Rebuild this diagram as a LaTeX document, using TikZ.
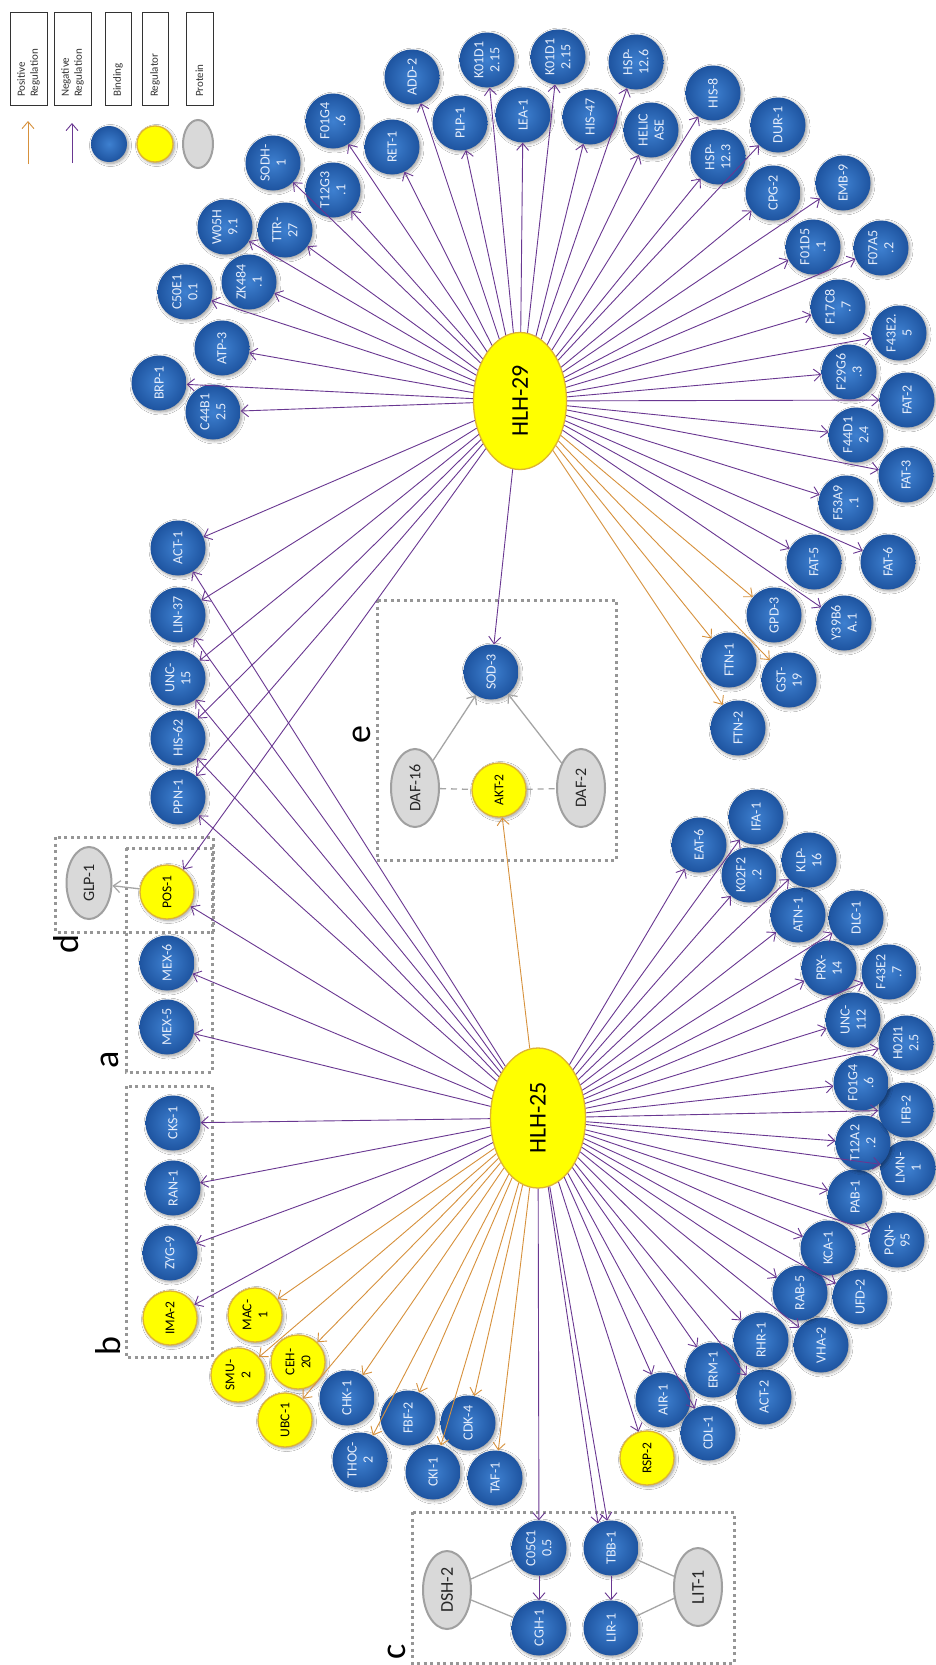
\documentclass[tikz,border=0pt]{standalone}
\usepackage{fontspec}
\setmainfont{Carlito}
\usetikzlibrary{arrows.meta,shapes.geometric,shadows.blur}

\definecolor{bIn}{RGB}{62,128,208}
\definecolor{bOut}{RGB}{30,84,160}
\definecolor{negc}{RGB}{105,55,145}
\definecolor{posc}{RGB}{215,145,60}
\definecolor{yel}{RGB}{255,255,0}
\definecolor{yelb}{RGB}{222,180,50}
\definecolor{prot}{RGB}{217,217,217}
\definecolor{protb}{RGB}{160,160,160}
\definecolor{boxc}{RGB}{150,150,150}
\definecolor{btxt}{RGB}{228,236,250}
\definecolor{linkc}{RGB}{165,165,165}

\tikzset{
  soft/.style={blur shadow={shadow xshift=1.5pt,shadow yshift=-1.5pt,shadow blur steps=8,shadow blur radius=3pt,shadow opacity=40}},
  bnode/.style={circle,minimum size=55pt,inner sep=0pt,shading=radial,inner color=bIn,outer color=bOut,
    text=btxt,font=\fontsize{14}{16}\selectfont,align=center,rotate=90,soft},
  ynode/.style={circle,minimum size=54pt,inner sep=0pt,fill=yel,draw=yelb,line width=1.3pt,
    text=black,font=\fontsize{13.5}{16}\selectfont,align=center,rotate=90,soft},
  pnode/.style={ellipse,minimum width=78pt,minimum height=48pt,inner sep=0pt,fill=prot,draw=protb,
    line width=2pt,text=black!85,font=\fontsize{16}{18}\selectfont,rotate=90},
  hub/.style={ellipse,inner sep=0pt,fill=yel,draw=yelb,line width=1.3pt,text=black,
    font=\fontsize{24}{26}\selectfont,rotate=90},
  neg/.style={draw=negc,line width=0.9pt,-{Straight Barb[length=7pt,width=12pt,line width=0.9pt]}},
  posr/.style={draw=posc,line width=0.9pt,-{Straight Barb[length=7pt,width=12pt,line width=0.9pt]}},
  grarr/.style={draw=linkc,line width=1.3pt,-{Straight Barb[length=7pt,width=12pt,line width=1.2pt]}},
  grline/.style={draw=linkc,line width=1.3pt},
  grdash/.style={draw=linkc,line width=1.3pt,dash pattern=on 6pt off 5pt},
  groupbox/.style={draw=boxc,line width=3pt,dash pattern=on 3pt off 3.5pt},
  boxletter/.style={rotate=90,font=\fontsize{36}{36}\selectfont,inner sep=0pt},
  legbox/.style={draw=black!80,line width=0.6pt},
  legtext/.style={rotate=90,anchor=west,align=left,inner sep=0pt,font=\fontsize{11}{13}\selectfont,text=black!80}
}

\begin{document}
\begin{tikzpicture}[x=1pt,y=-1pt]
\fill[white] (0,0) rectangle (936,1665);
\useasboundingbox (0,0) rectangle (936,1665);

% ---------- legend ----------
\draw[legbox] (10,12) rectangle (47,105);
\draw[legbox] (54,12) rectangle (91,105);
\draw[legbox] (105,12) rectangle (131,105);
\draw[legbox] (142,12) rectangle (168,105);
\draw[legbox] (186,12) rectangle (213,105);
\node[legtext] (lt1) at (28.5,97) {Positive\\Regulation};
\node[legtext] (lt2) at (72.5,97) {Negative\\Regulation};
\node[legtext] (lt3) at (118,97) {Binding};
\node[legtext] (lt4) at (155,97) {Regulator};
\node[legtext] (lt5) at (199.5,97) {Protein};
\coordinate (lp0) at (28,164); \coordinate (lp1) at (28,121);
\coordinate (ln0) at (72,163); \coordinate (ln1) at (72,123);
\draw[posr] (lp0) -- (lp1);
\draw[neg] (ln0) -- (ln1);
\node[bnode,minimum size=36pt] (lgb) at (109,144) {};
\node[ynode,minimum size=36pt] (lgy) at (155,144) {};
\node[pnode,minimum width=48pt,minimum height=30pt] (lgp) at (198,144) {};

% ---------- group frames ----------
\draw[groupbox] (377,600) rectangle (616,860);
\draw[groupbox] (55,837) rectangle (213,932);
\draw[groupbox] (126,848) rectangle (212,1072);
\draw[groupbox] (126,1086) rectangle (212,1357);
\draw[groupbox] (412,1512) rectangle (734,1663);
\node[boxletter] (la) at (110,1060) {a};
\node[boxletter] (lb) at (108,1346) {b};
\node[boxletter] (lc) at (397,1652) {c};
\node[boxletter] (ld) at (66,944) {d};
\node[boxletter] (le) at (362,735) {e};

% ---------- hubs ----------
\node[hub,minimum width=137pt,minimum height=93pt] (h29) at (520,401) {HLH-29};
\node[hub,minimum width=140pt,minimum height=95pt] (h25) at (538,1118) {HLH-25};

% ---------- binding partners (blue) ----------
\foreach \n/\x/\y/\t in {
  c44b1/213/412/{C44B1\\2.5}, brp1/159/383/{BRP-1}, atp3/222/348/{ATP-3},
  c50e1/185/292/{C50E1\\0.1}, zk484/249/282/{ZK484\\.1}, w05h/225/227/{W05H\\9.1},
  ttr27/285/230/{TTR-\\27}, sodh1/273/163/{SODH-\\1}, t12g3/333/190/{T12G3\\.1},
  f01g4a/333/121/{F01G4\\.6}, ret1/392/147/{RET-1}, add2/412/77/{ADD-2},
  plp1/460/123/{PLP-1}, k01d1a/487/60/{K01D1\\2.15}, lea1/523/115/{LEA-1},
  k01d1b/558/57/{K01D1\\2.15}, his47/590/117/{HIS-47}, hsp126/636/62/{HSP-\\12.6},
  helic/651/130/{HELIC\\ASE}, his8/713/93/{HIS-8}, hsp123/718/157/{HSP-\\12.3},
  dur1/778/125/{DUR-1}, cpg2/773/193/{CPG-2}, emb9/843/183/{EMB-9},
  f01d5/813/247/{F01D5\\.1}, f07a5/881/248/{F07A5\\.2}, f17c8/838/307/{F17C8\\.7},
  f43e25/899/333/{F43E2.\\5}, f29g6/849/372/{F29G6\\.3}, fat2/907/400/{FAT-2},
  f44d1/856/435/{F44D1\\2.4}, fat3/906/475/{FAT-3}, f53a9/846/503/{F53A9\\.1},
  fat5/814/562/{FAT-5}, fat6/888/562/{FAT-6}, y39b6/844/623/{Y39B6\\A.1},
  gpd3/774/615/{GPD-3}, ftn1/729/660/{FTN-1}, gst19/789/680/{GST-\\19},
  ftn2/738/728/{FTN-2}, sod3/491/672/{SOD-3},
  act1/178/548/{ACT-1}, lin37/178/615/{LIN-37}, unc15/178/678/{UNC-\\15},
  his62/178/738/{HIS-62}, ppn1/178/797/{PPN-1}, mex6/167/963/{MEX-6},
  mex5/167/1027/{MEX-5}, cks1/173/1123/{CKS-1}, ran1/173/1188/{RAN-1},
  zyg9/170/1253/{ZYG-9},
  chk1/347/1398/{CHK-1}, thoc2/360/1460/{THOC-\\2}, fbf2/408/1418/{FBF-2},
  cki1/433/1472/{CKI-1}, cdk4/468/1423/{CDK-4}, taf1/495/1478/{TAF-1},
  c05c1/539/1548/{C05C1\\0.5}, cgh1/539/1628/{CGH-1}, tbb1/611/1548/{TBB-1},
  lir1/611/1628/{LIR-1},
  air1/663/1400/{AIR-1}, cdl1/708/1433/{CDL-1}, erm1/713/1370/{ERM-1},
  act2/764/1397/{ACT-2}, rhr1/761/1340/{RHR-1}, vha2/821/1345/{VHA-2},
  rab5/800/1293/{RAB-5}, ufd2/860/1297/{UFD-2}, kca1/828/1248/{KCA-1},
  pqn95/897/1240/{PQN-\\95}, pab1/855/1197/{PAB-1}, lmn1/908/1168/{LMN-\\1},
  t12a2/863/1143/{T12A2\\.2}, ifb2/906/1110/{IFB-2}, f01g4b/861/1083/{F01G4\\.6},
  h02i1/906/1043/{H02I1\\2.5}, unc112/853/1020/{UNC-\\112}, f43e27/889/972/{F43E2\\.7},
  prx14/829/968/{PRX-\\14}, dlc1/856/918/{DLC-1}, atn1/798/915/{ATN-1},
  klp16/809/860/{KLP-\\16}, k02f2/749/875/{K02F2\\.2}, ifa1/756/817/{IFA-1},
  eat6/699/845/{EAT-6}}
  \node[bnode] (\n) at (\x,\y) {\t};

% ---------- regulators (yellow) ----------
\foreach \n/\x/\y/\t in {
  pos1/167/892/{POS-1}, ima2/170/1318/{IMA-2}, mac1/255/1315/{MAC-\\1},
  smu2/238/1375/{SMU-\\2}, ceh20/298/1362/{CEH-\\20}, ubc1/285/1420/{UBC-1},
  rsp2/647/1458/{RSP-2}, akt2/499/790/{AKT-2}}
  \node[ynode] (\n) at (\x,\y) {\t};

% ---------- proteins (grey) ----------
\node[pnode,minimum width=72pt,minimum height=45pt] (glp1) at (89,883) {GLP-1};
\node[pnode] (daf16) at (415,788) {DAF-16};
\node[pnode] (daf2) at (581,788) {DAF-2};
\node[pnode,font=\fontsize{18}{20}\selectfont] (dsh2) at (447,1590) {DSH-2};
\node[pnode,font=\fontsize{18}{20}\selectfont] (lit1) at (698,1587) {LIT-1};

% ---------- HLH-29 regulation ----------
\foreach \t in {c44b1,brp1,atp3,c50e1,zk484,w05h,ttr27,sodh1,t12g3,f01g4a,ret1,add2,
  plp1,k01d1a,lea1,k01d1b,his47,hsp126,helic,his8,hsp123,dur1,cpg2,emb9,f01d5,f07a5,
  f17c8,f43e25,f29g6,fat2,f44d1,fat3,f53a9,fat5,fat6,y39b6,sod3,
  act1,lin37,unc15,his62,ppn1,pos1}
  \draw[neg] (h29) -- (\t);
\foreach \t in {gpd3,ftn1,gst19,ftn2}
  \draw[posr] (h29) -- (\t);

% ---------- HLH-25 regulation ----------
\foreach \t in {act1,lin37,unc15,his62,ppn1,pos1,mex6,mex5,cks1,ran1,zyg9,ima2,
  c05c1,rsp2,air1,cdl1,erm1,act2,rhr1,vha2,rab5,ufd2,kca1,pqn95,pab1,lmn1,t12a2,
  ifb2,f01g4b,h02i1,unc112,f43e27,prx14,dlc1,atn1,klp16,k02f2,ifa1,eat6}
  \draw[neg] (h25) -- (\t);
\draw[neg] (h25) -- (tbb1.28);
\draw[neg] (h25) -- (tbb1.8);
\foreach \t in {mac1,ceh20,smu2,ubc1,chk1,thoc2,fbf2,cki1,cdk4,taf1,akt2}
  \draw[posr] (h25) -- (\t);

% ---------- inner links of the groups ----------
\draw[grarr] (pos1) -- (glp1);
\draw[grarr] (daf16) -- (sod3);
\draw[grarr] (daf2) -- (sod3);
\draw[grdash] (daf16) -- (akt2);
\draw[grdash] (akt2) -- (daf2);
\draw[grline] (dsh2) -- (c05c1);
\draw[grline] (dsh2) -- (cgh1);
\draw[grline] (lit1) -- (tbb1);
\draw[grline] (lit1) -- (lir1);
\draw[neg] (c05c1) -- (cgh1);
\draw[neg] (tbb1) -- (lir1);
\end{tikzpicture}
\end{document}
